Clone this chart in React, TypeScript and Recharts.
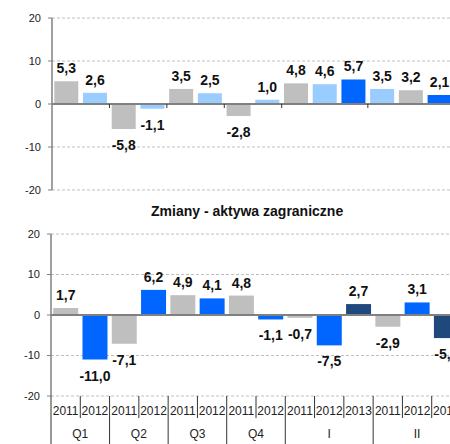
import { BarChart, Bar, XAxis, YAxis, CartesianGrid, ReferenceLine, Cell, LabelList } from "recharts";

const groups = ["Q1", "Q1", "Q2", "Q2", "Q3", "Q3", "Q4", "Q4", "I", "I", "I", "II", "II", "II"];
const years = ["2011", "2012", "2011", "2012", "2011", "2012", "2011", "2012", "2011", "2012", "2013", "2011", "2012", "2013"];
const topValues = [5.3, 2.6, -5.8, -1.1, 3.5, 2.5, -2.8, 1.0, 4.8, 4.6, 5.7, 3.5, 3.2, 2.1];
const bottomValues = [1.7, -11.0, -7.1, 6.2, 4.9, 4.1, 4.8, -1.1, -0.7, -7.5, 2.7, -2.9, 3.1, -5.7];
const yTicks = [-20, -10, 0, 10, 20];
const title = "Zmiany - aktywa zagraniczne";

const GRAY = "#BFBFBF";
const LIGHT = "#99CCFF";
const BLUE = "#0066FF";
const NAVY = "#1F497D";
const topColors = [GRAY, LIGHT, GRAY, LIGHT, GRAY, LIGHT, GRAY, LIGHT, GRAY, LIGHT, BLUE, LIGHT, GRAY, BLUE];
const bottomColors = [GRAY, BLUE, GRAY, BLUE, GRAY, BLUE, GRAY, BLUE, GRAY, BLUE, NAVY, GRAY, BLUE, NAVY];

const FONT = "'Liberation Sans', Arial, sans-serif";

const topData = groups.map((g, i) => ({ key: `${g}-${years[i]}-${i}`, v: topValues[i] }));
const bottomData = groups.map((g, i) => ({ key: `${g}-${years[i]}-${i}`, v: bottomValues[i] }));

const isGroupStart = (i: number) => i === 0 || groups[i] !== groups[i - 1];
const groupSize = (i: number) => {
  let n = 1;
  while (i + n < groups.length && groups[i + n] === groups[i]) n++;
  return n;
};

// top chart geometry
const TOP_W = 460;
const TOP_H = 200;
const TOP_M = { top: 18, right: 6, left: 0, bottom: 0 };
const TOP_YW = 52;
const TOP_XH = 10;
const TOP_PLOT_H = TOP_H - TOP_M.top - TOP_XH;
const TOP_BAND = (TOP_W - TOP_YW - TOP_M.right) / groups.length;

// bottom chart geometry
const BOT_W = 470;
const BOT_H = 224;
const BOT_M = { top: 14, right: 9, left: 0, bottom: 0 };
const BOT_YW = 51;
const BOT_BAND = (BOT_W - BOT_YW - BOT_M.right) / groups.length;

const fmt = (v: number) => v.toFixed(1).replace(".", ",");

function ValueLabel(props: any) {
  const vb = props.viewBox || {};
  const x = props.x ?? vb.x;
  const y = props.y ?? vb.y;
  const width = props.width ?? vb.width;
  const height = props.height ?? vb.height;
  const value = Number(props.value);
  const top = Math.min(y, y + height);
  const bottom = Math.max(y, y + height);
  const ty = value >= 0 ? top - 8 : bottom + 21;
  return (
    <text x={x + width / 2} y={ty} textAnchor="middle" fontSize={14} fontWeight="bold" fill="#111" fontFamily={FONT}>
      {fmt(value)}
    </text>
  );
}

// small marks on the zero line between groups (top panel)
function TopGroupTick(props: any) {
  const { x, y, index } = props;
  if (!isGroupStart(index) || index === 0) return <g />;
  const zy = y - TOP_PLOT_H / 2;
  const lx = x - TOP_BAND / 2;
  return <line x1={lx} x2={lx} y1={zy} y2={zy + 4} stroke="#333" strokeWidth={1} />;
}

function YearTick(props: any) {
  const { x, y, index } = props;
  const lx = x - BOT_BAND / 2;
  return (
    <g>
      {!isGroupStart(index) && <line x1={lx} x2={lx} y1={y} y2={y + 22} stroke="#333" strokeWidth={1} />}
      <text x={x} y={y + 19} textAnchor="middle" fontSize={12} fill="#222" fontFamily={FONT}>
        {years[index]}
      </text>
    </g>
  );
}

function GroupTick(props: any) {
  const { x, y, index } = props;
  if (!isGroupStart(index)) return <g />;
  const lx = x - BOT_BAND / 2;
  const n = groupSize(index);
  return (
    <g>
      <line x1={lx} x2={lx} y1={y - 24} y2={y + 24} stroke="#333" strokeWidth={1} />
      <text x={lx + (n * BOT_BAND) / 2} y={y + 18} textAnchor="middle" fontSize={12} fill="#222" fontFamily={FONT}>
        {groups[index]}
      </text>
    </g>
  );
}

const yTickStyle = { fontSize: 11, fill: "#222", fontFamily: FONT };

export default function App() {
  return (
    <div style={{ position: "absolute", left: 0, top: 0, width: 450, height: 444, overflow: "hidden", background: "#fff" }}>
      <div style={{ position: "absolute", left: 0, top: 0 }}>
        <BarChart width={TOP_W} height={TOP_H} data={topData} margin={TOP_M} barCategoryGap="8%">
          <CartesianGrid vertical={false} stroke="#BFBFBF" strokeDasharray="3 2" />
          <XAxis
            dataKey="key"
            height={TOP_XH}
            axisLine={false}
            tickLine={false}
            tickSize={0}
            tickMargin={0}
            interval={0}
            tick={<TopGroupTick />}
          />
          <YAxis
            width={TOP_YW}
            domain={[-20, 20]}
            ticks={yTicks}
            interval={0}
            tick={yTickStyle}
            tickSize={4}
            tickMargin={7}
            axisLine={{ stroke: "#808080", strokeWidth: 1.5 }}
            tickLine={{ stroke: "#808080" }}
          />
          <ReferenceLine y={0} stroke="#808080" strokeWidth={2} />
          <Bar dataKey="v" isAnimationActive={false}>
            {topData.map((_, i) => (
              <Cell key={i} fill={topColors[i]} />
            ))}
            <LabelList dataKey="v" content={<ValueLabel />} />
          </Bar>
        </BarChart>
      </div>

      <div
        style={{
          position: "absolute",
          left: 151,
          top: 203,
          fontFamily: FONT,
          fontSize: 14,
          fontWeight: "bold",
          color: "#111",
          whiteSpace: "nowrap",
        }}
      >
        {title}
      </div>

      <div style={{ position: "absolute", left: 0, top: 220 }}>
        <BarChart width={BOT_W} height={BOT_H} data={bottomData} margin={BOT_M} barCategoryGap="7.5%">
          <CartesianGrid vertical={false} stroke="#BFBFBF" strokeDasharray="3 2" />
          <XAxis
            dataKey="key"
            height={24}
            axisLine={false}
            tickLine={false}
            tickSize={0}
            tickMargin={0}
            interval={0}
            tick={<YearTick />}
          />
          <XAxis
            dataKey="key"
            xAxisId="grp"
            height={24}
            axisLine={false}
            tickLine={false}
            tickSize={0}
            tickMargin={0}
            interval={0}
            tick={<GroupTick />}
          />
          <YAxis
            width={BOT_YW}
            domain={[-20, 20]}
            ticks={yTicks}
            interval={0}
            tick={yTickStyle}
            tickSize={4}
            tickMargin={7}
            axisLine={{ stroke: "#808080", strokeWidth: 1.5 }}
            tickLine={{ stroke: "#808080" }}
          />
          <ReferenceLine y={0} stroke="#808080" strokeWidth={2} />
          <Bar dataKey="v" isAnimationActive={false}>
            {bottomData.map((_, i) => (
              <Cell key={i} fill={bottomColors[i]} />
            ))}
            <LabelList dataKey="v" content={<ValueLabel />} />
          </Bar>
        </BarChart>
      </div>
    </div>
  );
}
